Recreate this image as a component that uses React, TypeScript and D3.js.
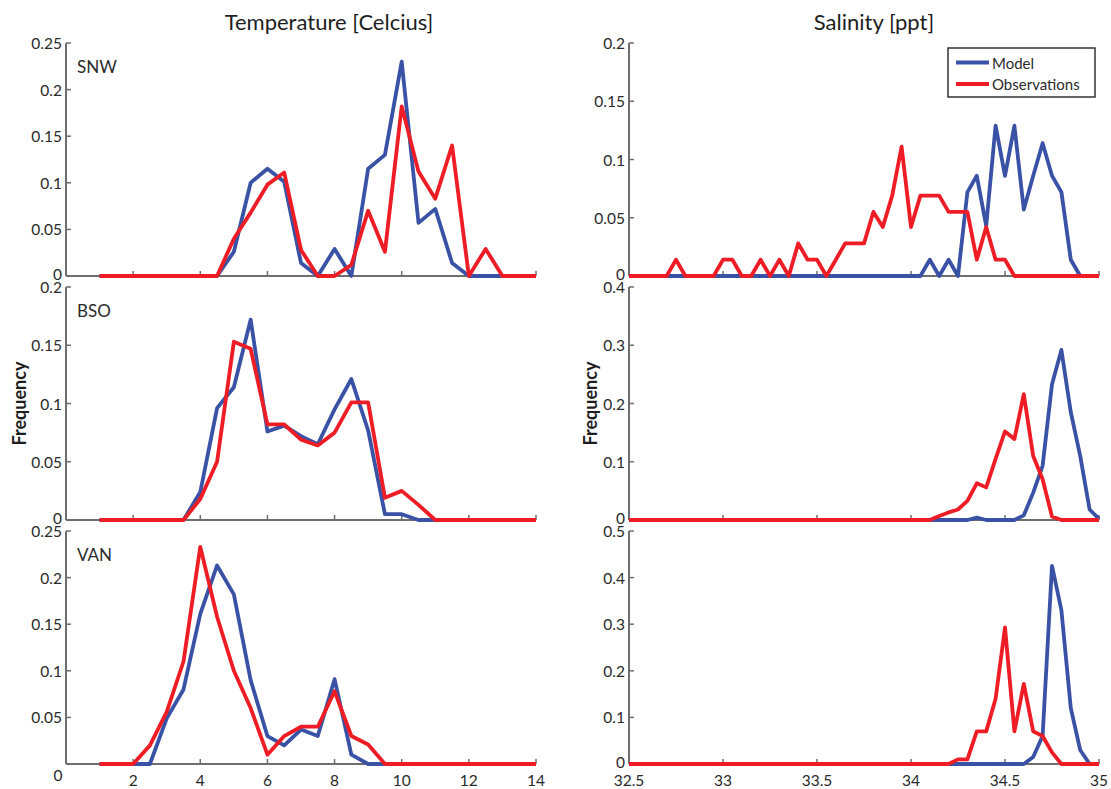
import React from "react";
import * as d3 from "d3";

// ---------- data ----------
const tempBins = [1, 1.5, 2, 2.5, 3, 3.5, 4, 4.5, 5, 5.5, 6, 6.5, 7, 7.5, 8, 8.5, 9, 9.5, 10, 10.5, 11, 11.5, 12, 12.5, 13, 13.5, 14];

const salBins = [
  32.5, 32.55, 32.6, 32.65, 32.7, 32.75, 32.8, 32.85, 32.9, 32.95,
  33, 33.05, 33.1, 33.15, 33.2, 33.25, 33.3, 33.35, 33.4, 33.45,
  33.5, 33.55, 33.6, 33.65, 33.7, 33.75, 33.8, 33.85, 33.9, 33.95,
  34, 34.05, 34.1, 34.15, 34.2, 34.25, 34.3, 34.35, 34.4, 34.45,
  34.5, 34.55, 34.6, 34.65, 34.7, 34.75, 34.8, 34.85, 34.9, 34.95,
  35,
];

const snwTempModel = [0, 0, 0, 0, 0, 0, 0, 0, 0.026, 0.1, 0.115, 0.101, 0.014, 0, 0.029, 0, 0.115, 0.13, 0.23, 0.057, 0.072, 0.014, 0, 0, 0, 0, 0];
const snwTempObs = [0, 0, 0, 0, 0, 0, 0, 0, 0.04, 0.068, 0.098, 0.111, 0.028, 0, 0, 0.012, 0.07, 0.026, 0.182, 0.112, 0.083, 0.14, 0, 0.029, 0, 0, 0];
const bsoTempModel = [0, 0, 0, 0, 0, 0, 0.024, 0.096, 0.114, 0.172, 0.076, 0.081, 0.072, 0.065, 0.095, 0.121, 0.077, 0.005, 0.005, 0, 0, 0, 0, 0, 0, 0, 0];
const bsoTempObs = [0, 0, 0, 0, 0, 0, 0.018, 0.05, 0.153, 0.147, 0.082, 0.082, 0.069, 0.064, 0.075, 0.101, 0.101, 0.019, 0.025, 0.013, 0, 0, 0, 0, 0, 0, 0];
const vanTempModel = [0, 0, 0, 0, 0.049, 0.08, 0.161, 0.213, 0.182, 0.09, 0.03, 0.02, 0.037, 0.03, 0.091, 0.01, 0, 0, 0, 0, 0, 0, 0, 0, 0, 0, 0];
const vanTempObs = [0, 0, 0, 0.02, 0.056, 0.11, 0.233, 0.158, 0.1, 0.06, 0.01, 0.03, 0.04, 0.04, 0.078, 0.03, 0.021, 0, 0, 0, 0, 0, 0, 0, 0, 0, 0];

const snwSalModel = [
  0, 0, 0, 0, 0, 0, 0, 0, 0, 0,
  0, 0, 0, 0, 0, 0, 0, 0, 0, 0,
  0, 0, 0, 0, 0, 0, 0, 0, 0, 0,
  0, 0, 0.014, 0, 0.014, 0, 0.072, 0.086, 0.043, 0.129,
  0.086, 0.129, 0.057, 0.086, 0.114, 0.086, 0.072, 0.014, 0, 0,
  0,
];
const snwSalObs = [
  0, 0, 0, 0, 0, 0.014, 0, 0, 0, 0,
  0.014, 0.014, 0, 0, 0.014, 0, 0.014, 0, 0.028, 0.014,
  0.014, 0, 0.014, 0.028, 0.028, 0.028, 0.055, 0.042, 0.069, 0.111,
  0.042, 0.069, 0.069, 0.069, 0.055, 0.055, 0.055, 0.014, 0.042, 0.014,
  0.014, 0, 0, 0, 0, 0, 0, 0, 0, 0,
  0,
];
const bsoSalModel = [
  0, 0, 0, 0, 0, 0, 0, 0, 0, 0,
  0, 0, 0, 0, 0, 0, 0, 0, 0, 0,
  0, 0, 0, 0, 0, 0, 0, 0, 0, 0,
  0, 0, 0, 0, 0, 0, 0, 0.004, 0, 0,
  0, 0, 0.008, 0.047, 0.093, 0.233, 0.292, 0.185, 0.11, 0.018,
  0.002,
];
const bsoSalObs = [
  0, 0, 0, 0, 0, 0, 0, 0, 0, 0,
  0, 0, 0, 0, 0, 0, 0, 0, 0, 0,
  0, 0, 0, 0, 0, 0, 0, 0, 0, 0,
  0, 0, 0, 0.007, 0.013, 0.018, 0.033, 0.063, 0.056, 0.105,
  0.152, 0.139, 0.216, 0.11, 0.07, 0.006, 0, 0, 0, 0,
  0,
];
const vanSalModel = [
  0, 0, 0, 0, 0, 0, 0, 0, 0, 0,
  0, 0, 0, 0, 0, 0, 0, 0, 0, 0,
  0, 0, 0, 0, 0, 0, 0, 0, 0, 0,
  0, 0, 0, 0, 0, 0, 0, 0, 0, 0,
  0, 0, 0, 0.015, 0.06, 0.425, 0.33, 0.12, 0.03, 0,
  0,
];
const vanSalObs = [
  0, 0, 0, 0, 0, 0, 0, 0, 0, 0,
  0, 0, 0, 0, 0, 0, 0, 0, 0, 0,
  0, 0, 0, 0, 0, 0, 0, 0, 0, 0,
  0, 0, 0, 0, 0, 0.01, 0.01, 0.07, 0.07, 0.14,
  0.293, 0.07, 0.172, 0.07, 0.06, 0.025, 0, 0, 0, 0,
  0,
];

const stations = ["SNW", "BSO", "VAN"];
const tempXTicks = [0, 2, 4, 6, 8, 10, 12, 14];
const salXTicks = [32.5, 33, 33.5, 34, 34.5, 35];
const tempYTicks = [
  [0, 0.05, 0.1, 0.15, 0.2, 0.25],
  [0, 0.05, 0.1, 0.15, 0.2],
  [0, 0.05, 0.1, 0.15, 0.2, 0.25],
];
const salYTicks = [
  [0, 0.05, 0.1, 0.15, 0.2],
  [0, 0.1, 0.2, 0.3, 0.4],
  [0, 0.1, 0.2, 0.3, 0.4, 0.5],
];
const tempModel = [snwTempModel, bsoTempModel, vanTempModel];
const tempObs = [snwTempObs, bsoTempObs, vanTempObs];
const salModel = [snwSalModel, bsoSalModel, vanSalModel];
const salObs = [snwSalObs, bsoSalObs, vanSalObs];
const seriesNames = ["Model", "Observations"];

// ---------- layout ----------
const W = 1111;
const H = 789;
const BLUE = "#3a52a5";
const RED = "#ee1d25";
const AXIS = "#6e6e6e";
const TXT = "#2a2a2a";
const FONT = "Lato, 'Open Sans', sans-serif";
const rowTops = [43, 287, 531];
const PH = 233;
const LEFT = { x0: 66, x1: 536 };
const RIGHT = { x0: 629, x1: 1099 };
const LW = 3.8;

const fmt = d3.format("~g");

function Panel({ x0, x1, y0, xDomain, xTicks, yTicks, bins, model, obs, label, showXLabels, hideYZero, zeroXLabelShift }: any) {
  const y1 = y0 + PH;
  const xs = d3.scaleLinear().domain(xDomain).range([x0, x1]);
  const ys = d3.scaleLinear().domain([0, yTicks[yTicks.length - 1]]).range([y1, y0]);
  const line = d3
    .line<number>()
    .x((_, i) => xs(bins[i]))
    .y((v) => ys(v));
  return (
    <g>
      <line x1={x0} x2={x0} y1={y0} y2={y1} stroke={AXIS} strokeWidth={2} />
      <line x1={x0} x2={x1} y1={y1} y2={y1} stroke={AXIS} strokeWidth={2} />
      {yTicks.map((t: number) => (
        <g key={"y" + t}>
          <line x1={x0} x2={x0 + 5} y1={ys(t)} y2={ys(t)} stroke={AXIS} strokeWidth={1.5} />
          {!(hideYZero && t === 0) && (
            <text x={x0 - 4} y={ys(t) + (t === 0 ? -2 : 0)} textAnchor="end" dominantBaseline="central" fontSize={15.5} fill={TXT} fontFamily={FONT}>
              {fmt(t)}
            </text>
          )}
        </g>
      ))}
      {xTicks.map((t: number) => (
        <g key={"x" + t}>
          <line x1={xs(t)} x2={xs(t)} y1={y1} y2={y1 - 5} stroke={AXIS} strokeWidth={1.5} />
          {showXLabels && (
            <text
              x={xs(t) + (zeroXLabelShift && t === 0 ? -8 : 0)}
              y={y1 + (zeroXLabelShift && t === 0 ? 11 : 16)}
              textAnchor="middle"
              dominantBaseline="central"
              fontSize={15.5}
              fill={TXT}
              fontFamily={FONT}
            >
              {fmt(t)}
            </text>
          )}
        </g>
      ))}
      <path d={line(model) || ""} fill="none" stroke={BLUE} strokeWidth={LW} strokeLinejoin="round" />
      <path d={line(obs) || ""} fill="none" stroke={RED} strokeWidth={LW} strokeLinejoin="round" />
      {label && (
        <text x={x0 + 11} y={y0 + 30} fontSize={17} fill={TXT} fontFamily={FONT}>
          {label}
        </text>
      )}
    </g>
  );
}

export default function App() {
  return (
    <svg width={W} height={H} style={{ position: "absolute", left: 0, top: 0, background: "#fff" }}>
      <rect x={0} y={0} width={W} height={H} fill="#fff" />
      <text x={329} y={30} textAnchor="middle" fontSize={22} fill="#1e1e1e" fontFamily={FONT}>
        Temperature [Celcius]
      </text>
      <text x={874} y={30} textAnchor="middle" fontSize={22} fill="#1e1e1e" fontFamily={FONT}>
        Salinity [ppt]
      </text>
      {stations.map((s, r) => (
        <g key={s}>
          <Panel
            x0={LEFT.x0}
            x1={LEFT.x1}
            y0={rowTops[r]}
            xDomain={[0, 14]}
            xTicks={tempXTicks}
            yTicks={tempYTicks[r]}
            bins={tempBins}
            model={tempModel[r]}
            obs={tempObs[r]}
            label={s}
            showXLabels={r === 2}
            hideYZero={r === 2}
            zeroXLabelShift={true}
          />
          <Panel
            x0={RIGHT.x0}
            x1={RIGHT.x1}
            y0={rowTops[r]}
            xDomain={[32.5, 35]}
            xTicks={salXTicks}
            yTicks={salYTicks[r]}
            bins={salBins}
            model={salModel[r]}
            obs={salObs[r]}
            label={null}
            showXLabels={r === 2}
            hideYZero={false}
            zeroXLabelShift={false}
          />
        </g>
      ))}
      <text transform={`translate(19,${rowTops[1] + PH / 2}) rotate(-90)`} textAnchor="middle" dominantBaseline="central" fontSize={18} fontWeight="bold" fill="#1e1e1e" fontFamily={FONT}>
        Frequency
      </text>
      <text transform={`translate(590,${rowTops[1] + PH / 2}) rotate(-90)`} textAnchor="middle" dominantBaseline="central" fontSize={18} fontWeight="bold" fill="#1e1e1e" fontFamily={FONT}>
        Frequency
      </text>
      <g>
        <rect x={948} y={48} width={147} height={49} fill="#fff" stroke="#333" strokeWidth={1.5} />
        {seriesNames.map((n, i) => (
          <g key={n}>
            <line x1={956} x2={989} y1={62.5 + i * 21.5} y2={62.5 + i * 21.5} stroke={i === 0 ? BLUE : RED} strokeWidth={LW} />
            <text x={992} y={62.5 + i * 21.5} dominantBaseline="central" fontSize={15} fill={TXT} fontFamily={FONT}>
              {n}
            </text>
          </g>
        ))}
      </g>
    </svg>
  );
}
